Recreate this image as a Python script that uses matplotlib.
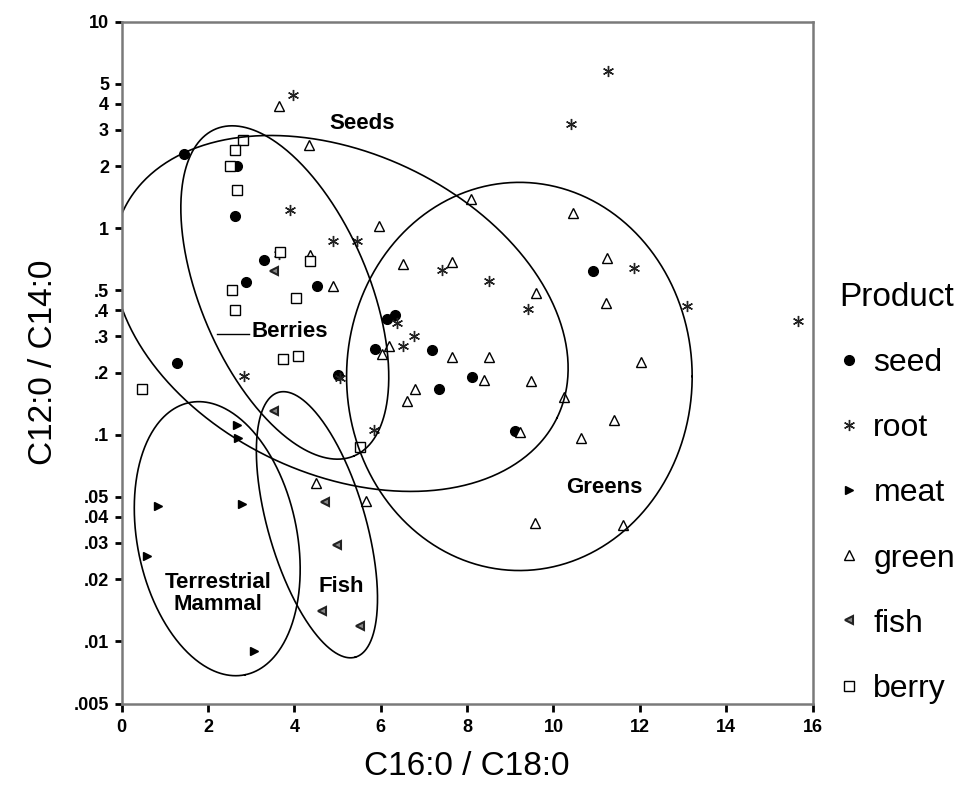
import numpy as np
import matplotlib
matplotlib.use("Agg")
import matplotlib.pyplot as plt
from matplotlib.ticker import NullLocator

plt.rcParams["font.family"] = ["Liberation Sans", "DejaVu Sans"]

# C16:0/C18:0 (x) and C12:0/C14:0 (y) per product type
seed_x = [1.45, 2.67, 2.62, 3.31, 2.88, 4.53, 6.14, 6.32, 5.87, 7.18, 1.28, 5.02, 7.35, 8.11, 9.11, 10.91]
seed_y = [2.28, 2.01, 1.15, 0.703, 0.547, 0.527, 0.364, 0.38, 0.261, 0.256, 0.223, 0.195, 0.167, 0.19, 0.104, 0.622]

root_x = [3.97, 3.89, 4.90, 5.46, 11.26, 10.41, 3.64, 7.43, 6.37, 6.77, 6.52, 2.83, 5.05, 5.84,
          11.87, 13.10, 15.67, 8.50, 9.42]
root_y = [4.43, 1.23, 0.863, 0.863, 5.8, 3.18, 0.75, 0.63, 0.348, 0.302, 0.269, 0.192, 0.188, 0.106,
          0.64, 0.419, 0.357, 0.557, 0.407]

meat_x = [2.67, 2.69, 0.855, 2.79, 0.585, 3.07]
meat_y = [0.112, 0.097, 0.0454, 0.0461, 0.026, 0.00897]

green_x = [3.64, 4.34, 5.96, 8.10, 10.45, 4.36, 6.52, 7.66, 4.90, 6.19, 6.02, 6.79, 6.60, 11.23, 11.22,
           9.59, 7.66, 8.51, 8.38, 9.48, 12.03, 10.25, 9.23, 11.41, 10.64, 4.51, 5.65, 9.58, 11.6]
green_y = [3.9, 2.52, 1.03, 1.39, 1.18, 0.741, 0.67, 0.69, 0.527, 0.27, 0.246, 0.166, 0.145, 0.714, 0.435,
           0.484, 0.238, 0.238, 0.185, 0.183, 0.225, 0.152, 0.103, 0.118, 0.097, 0.0586, 0.048, 0.0373, 0.0366]

fish_x = [3.52, 3.54, 4.72, 4.98, 4.63, 5.52]
fish_y = [0.618, 0.131, 0.0471, 0.0293, 0.0141, 0.0118]

berry_x = [2.81, 2.63, 2.52, 2.67, 3.68, 4.36, 2.55, 2.63, 4.03, 0.47, 3.75, 4.08, 5.52]
berry_y = [2.67, 2.39, 2.0, 1.53, 0.769, 0.695, 0.502, 0.404, 0.46, 0.167, 0.233, 0.242, 0.0875]

y_ticks = [10, 5, 4, 3, 2, 1, .5, .4, .3, .2, .1, .05, .04, .03, .02, .01, .005]
y_labels = ["10", "5", "4", "3", "2", "1", ".5", ".4", ".3", ".2", ".1",
            ".05", ".04", ".03", ".02", ".01", ".005"]

# group ellipses: centre x, centre log10(y), semi-axes (x units), angle (deg)
ELLIPSES = [(5.07, -0.4125, 5.57, 3.73, -25.9),   # seeds
            (3.78, -0.311, 4.13, 1.95, -67.2),    # berries
            (9.21, -0.7175, 4.00, 4.52, 0.0),     # greens
            (2.216, -1.503, 3.234, 1.847, -78.6), # terrestrial mammal
            (4.524, -1.4355, 3.209, 1.128, -73.9)]  # fish
K = 4.81  # x units that match one decade on screen

fig = plt.figure(figsize=(9.62, 8.01), dpi=100)
ax = fig.add_axes([0.1263, 0.1217, 0.7185, 0.8512])
ax.set_yscale("log")

ms = 7
series = [
    ("seed", seed_x, seed_y, dict(marker="o", ms=ms, mfc="black", mec="black")),
    ("root", root_x, root_y, dict(marker=(6, 2, 0), ms=ms + 1, mec="#222222", mew=1.0)),
    ("meat", meat_x, meat_y, dict(marker=">", ms=ms - 1, mfc="black", mec="black")),
    ("green", green_x, green_y, dict(marker="^", ms=ms, mfc="white", mec="black", mew=1.0)),
    ("fish", fish_x, fish_y, dict(marker="<", ms=ms - 1, mfc="#888888", mec="#222222", mew=1.5)),
    ("berry", berry_x, berry_y, dict(marker="s", ms=ms, mfc="white", mec="black", mew=1.0)),
]
handles = []
for name, xs, ys, st in series:
    h, = ax.plot(xs, ys, ls="none", label=name, **st)
    handles.append(h)

t = np.linspace(0, 2 * np.pi, 500)
for cx, cly, a, b, ang in ELLIPSES:
    r = np.deg2rad(ang)
    u, v = a * np.cos(t), b * np.sin(t)
    ex = cx + u * np.cos(r) - v * np.sin(r)
    ey = 10 ** (cly + (u * np.sin(r) + v * np.cos(r)) / K)
    ax.plot(ex, ey, color="black", lw=1.2)

lab = dict(fontsize=16, fontweight="bold", ha="center", va="center")
ax.text(5.56, 3.21, "Seeds", **lab)
ax.text(11.18, 0.0555, "Greens", **lab)
ax.text(2.23, 0.0170, "Terrestrial\nMammal", linespacing=1.05, **lab)
ax.text(5.08, 0.0185, "Fish", **lab)
ax.text(3.02, 0.315, "Berries", fontsize=16, fontweight="bold", ha="left", va="center")
ax.plot([2.21, 2.94], [0.308, 0.308], color="black", lw=1.0)

ax.set_xlim(0, 16)
ax.set_ylim(0.005, 10)
ax.set_xticks(range(0, 17, 2))
ax.set_yticks(y_ticks, y_labels)
ax.yaxis.set_minor_locator(NullLocator())
for lbl in ax.get_xticklabels() + ax.get_yticklabels():
    lbl.set_fontweight("bold")
ax.tick_params(axis="y", direction="out", length=5, width=2, labelsize=13, pad=4)
ax.tick_params(axis="x", direction="out", length=6, width=2, labelsize=13, pad=5)
for s in ax.spines.values():
    s.set_color("#7a7a7a")
    s.set_linewidth(1.8)

ax.set_xlabel("C16:0 / C18:0", fontsize=24)
ax.xaxis.set_label_coords(0.5, -0.07)
ax.set_ylabel("C12:0 / C14:0", fontsize=24)
ax.yaxis.set_label_coords(-0.09, 0.5)

leg = ax.legend(handles=handles, loc="upper left", bbox_to_anchor=(0.872, 0.648),
                bbox_transform=fig.transFigure, frameon=False, fontsize=23,
                title="Product", title_fontsize=24, alignment="left",
                handlelength=0.63, handletextpad=0.45, labelspacing=1.1,
                borderpad=0, borderaxespad=0)

fig.savefig("out.png", dpi=100, facecolor="white")
